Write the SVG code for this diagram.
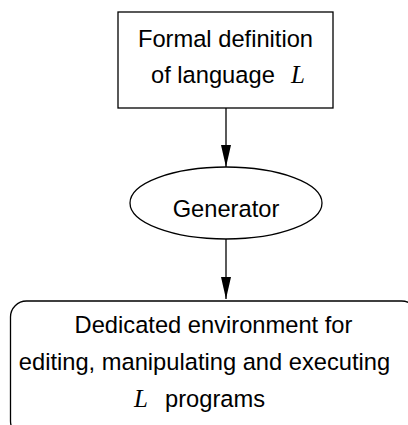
<svg xmlns="http://www.w3.org/2000/svg" width="408" height="425" viewBox="0 0 408 425">
  <defs>
    <style>
      .shape { fill: #fff; stroke: #000; stroke-width: 1.3; }
      .label { font-family: "Liberation Sans", Arial, sans-serif; font-size: 23.7px; fill: #000; }
      .math { font-family: "Liberation Serif", "Times New Roman", serif; font-style: italic; font-size: 25px; fill: #000; }
      .edge { fill: none; stroke: #000; stroke-width: 1.3; }
    </style>
    <marker id="arrow" markerUnits="userSpaceOnUse" markerWidth="24" markerHeight="12" refX="22" refY="5" orient="auto">
      <path d="M0,0 L22,5 L0,10 Z" fill="#000"/>
    </marker>
  </defs>
  <rect width="408" height="425" fill="#fff"/>

  <g id="formal-definition">
    <rect class="shape" x="118" y="12" width="215" height="96"/>
    <text class="label" x="225.5" y="47" text-anchor="middle">Formal definition</text>
    <text class="label" x="151" y="83">of language</text>
    <text class="math" x="291" y="83">L</text>
  </g>

  <g id="generator">
    <ellipse class="shape" cx="226" cy="203" rx="96" ry="36"/>
    <text class="label" x="226" y="217" text-anchor="middle">Generator</text>
  </g>

  <g id="environment">
    <rect class="shape" x="10.5" y="301" width="407" height="136" rx="16" ry="16"/>
    <text class="label" x="213.5" y="333" text-anchor="middle">Dedicated environment for</text>
    <text class="label" x="204.5" y="370" text-anchor="middle">editing, manipulating and executing</text>
    <text class="math" x="134" y="407">L</text>
    <text class="label" x="165" y="407">programs</text>
  </g>

  <g id="connectors">
    <line class="edge" x1="226" y1="108" x2="226" y2="167" marker-end="url(#arrow)"/>
    <line class="edge" x1="226" y1="239" x2="226" y2="299" marker-end="url(#arrow)"/>
  </g>
</svg>
